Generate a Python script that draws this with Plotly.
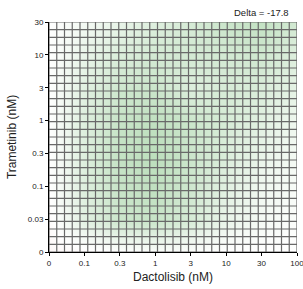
import plotly.graph_objects as go

dactolisib_labels = ["0", "0.1", "0.3", "1", "3", "10", "30", "100"]
trametinib_labels = ["0", "0.03", "0.1", "0.3", "1", "3", "10", "30"]

# delta synergy scores, rows = trametinib (0 -> 30), cols = dactolisib (0 -> 100)
delta_y0 = [2, 1, 0, -1, -1, 0, 0, 0]
delta_y003 = [1, -8, -14, -15, -11, -6, -3, -1]
delta_y01 = [0, -9, -15, -17, -13, -8, -4, -2]
delta_y03 = [0, -9, -16, -18, -14, -10, -6, -3]
delta_y1 = [0, -9, -15, -17, -14, -11, -8, -4]
delta_y3 = [0, -8, -13, -14, -9, -11, -10, -7]
delta_y10 = [0, -6, -10, -12, -12, -12, -13, -9]
delta_y30 = [0, -3, -6, -9, -11, -14, -16, -12]
delta_matrix = [delta_y0, delta_y003, delta_y01, delta_y03, delta_y1, delta_y3, delta_y10, delta_y30]
delta_text = "Delta = -17.8"

xi = list(range(len(dactolisib_labels)))
yi = list(range(len(trametinib_labels)))

fig = go.Figure(go.Heatmap(
    x=xi, y=yi, z=delta_matrix, zsmooth="best",
    zmin=-58, zmax=58,
    colorscale=[[0, "rgb(40,150,40)"], [0.5, "rgb(255,255,255)"], [1, "rgb(200,40,40)"]],
    showscale=False, hoverinfo="skip",
))

ncols, nrows = 32, 30
xmax, ymax = xi[-1], yi[-1]
shapes = []
for i in range(ncols + 1):
    xv = i * xmax / ncols
    shapes.append(dict(type="line", xref="x", yref="y", x0=xv, x1=xv, y0=0, y1=ymax,
                       line=dict(color="rgb(105,105,105)", width=1.2), layer="above"))
for j in range(nrows + 1):
    yv = j * ymax / nrows
    shapes.append(dict(type="line", xref="x", yref="y", x0=0, x1=xmax, y0=yv, y1=yv,
                       line=dict(color="rgb(105,105,105)", width=1.2), layer="above"))

fig.update_layout(
    width=303, height=289,
    margin=dict(l=49, r=6, t=22, b=37, autoexpand=False),
    paper_bgcolor="white", plot_bgcolor="white",
    font=dict(family="Liberation Sans, Arial, sans-serif", color="#222"),
    shapes=shapes,
    showlegend=False,
    annotations=[dict(text=delta_text, xref="paper", yref="paper",
                      x=1.0, y=1.0, xanchor="right", yanchor="bottom", yshift=2, xshift=-6,
                      showarrow=False, font=dict(size=9.5, color="#222"))],
)
fig.update_xaxes(range=[0, xmax], tickvals=xi, ticktext=dactolisib_labels, automargin=False,
                 showgrid=False, zeroline=False, showline=True, linecolor="black", linewidth=1,
                 ticks="outside", ticklen=3, tickcolor="black", tickfont=dict(size=8),
                 ticklabeloverflow="allow",
                 title=dict(text="Dactolisib (nM)", font=dict(size=12), standoff=6))
fig.update_yaxes(range=[0, ymax], tickvals=yi, ticktext=trametinib_labels, automargin=False,
                 showgrid=False, zeroline=False, showline=True, linecolor="black", linewidth=1,
                 ticks="outside", ticklen=3, tickcolor="black", tickfont=dict(size=8),
                 ticklabeloverflow="allow",
                 title=dict(text="Trametinib (nM)", font=dict(size=12), standoff=8))

fig.write_html("out.html", config={"displayModeBar": False, "staticPlot": True},
               post_script="document.body.style.margin='0';document.body.style.overflow='hidden';")
